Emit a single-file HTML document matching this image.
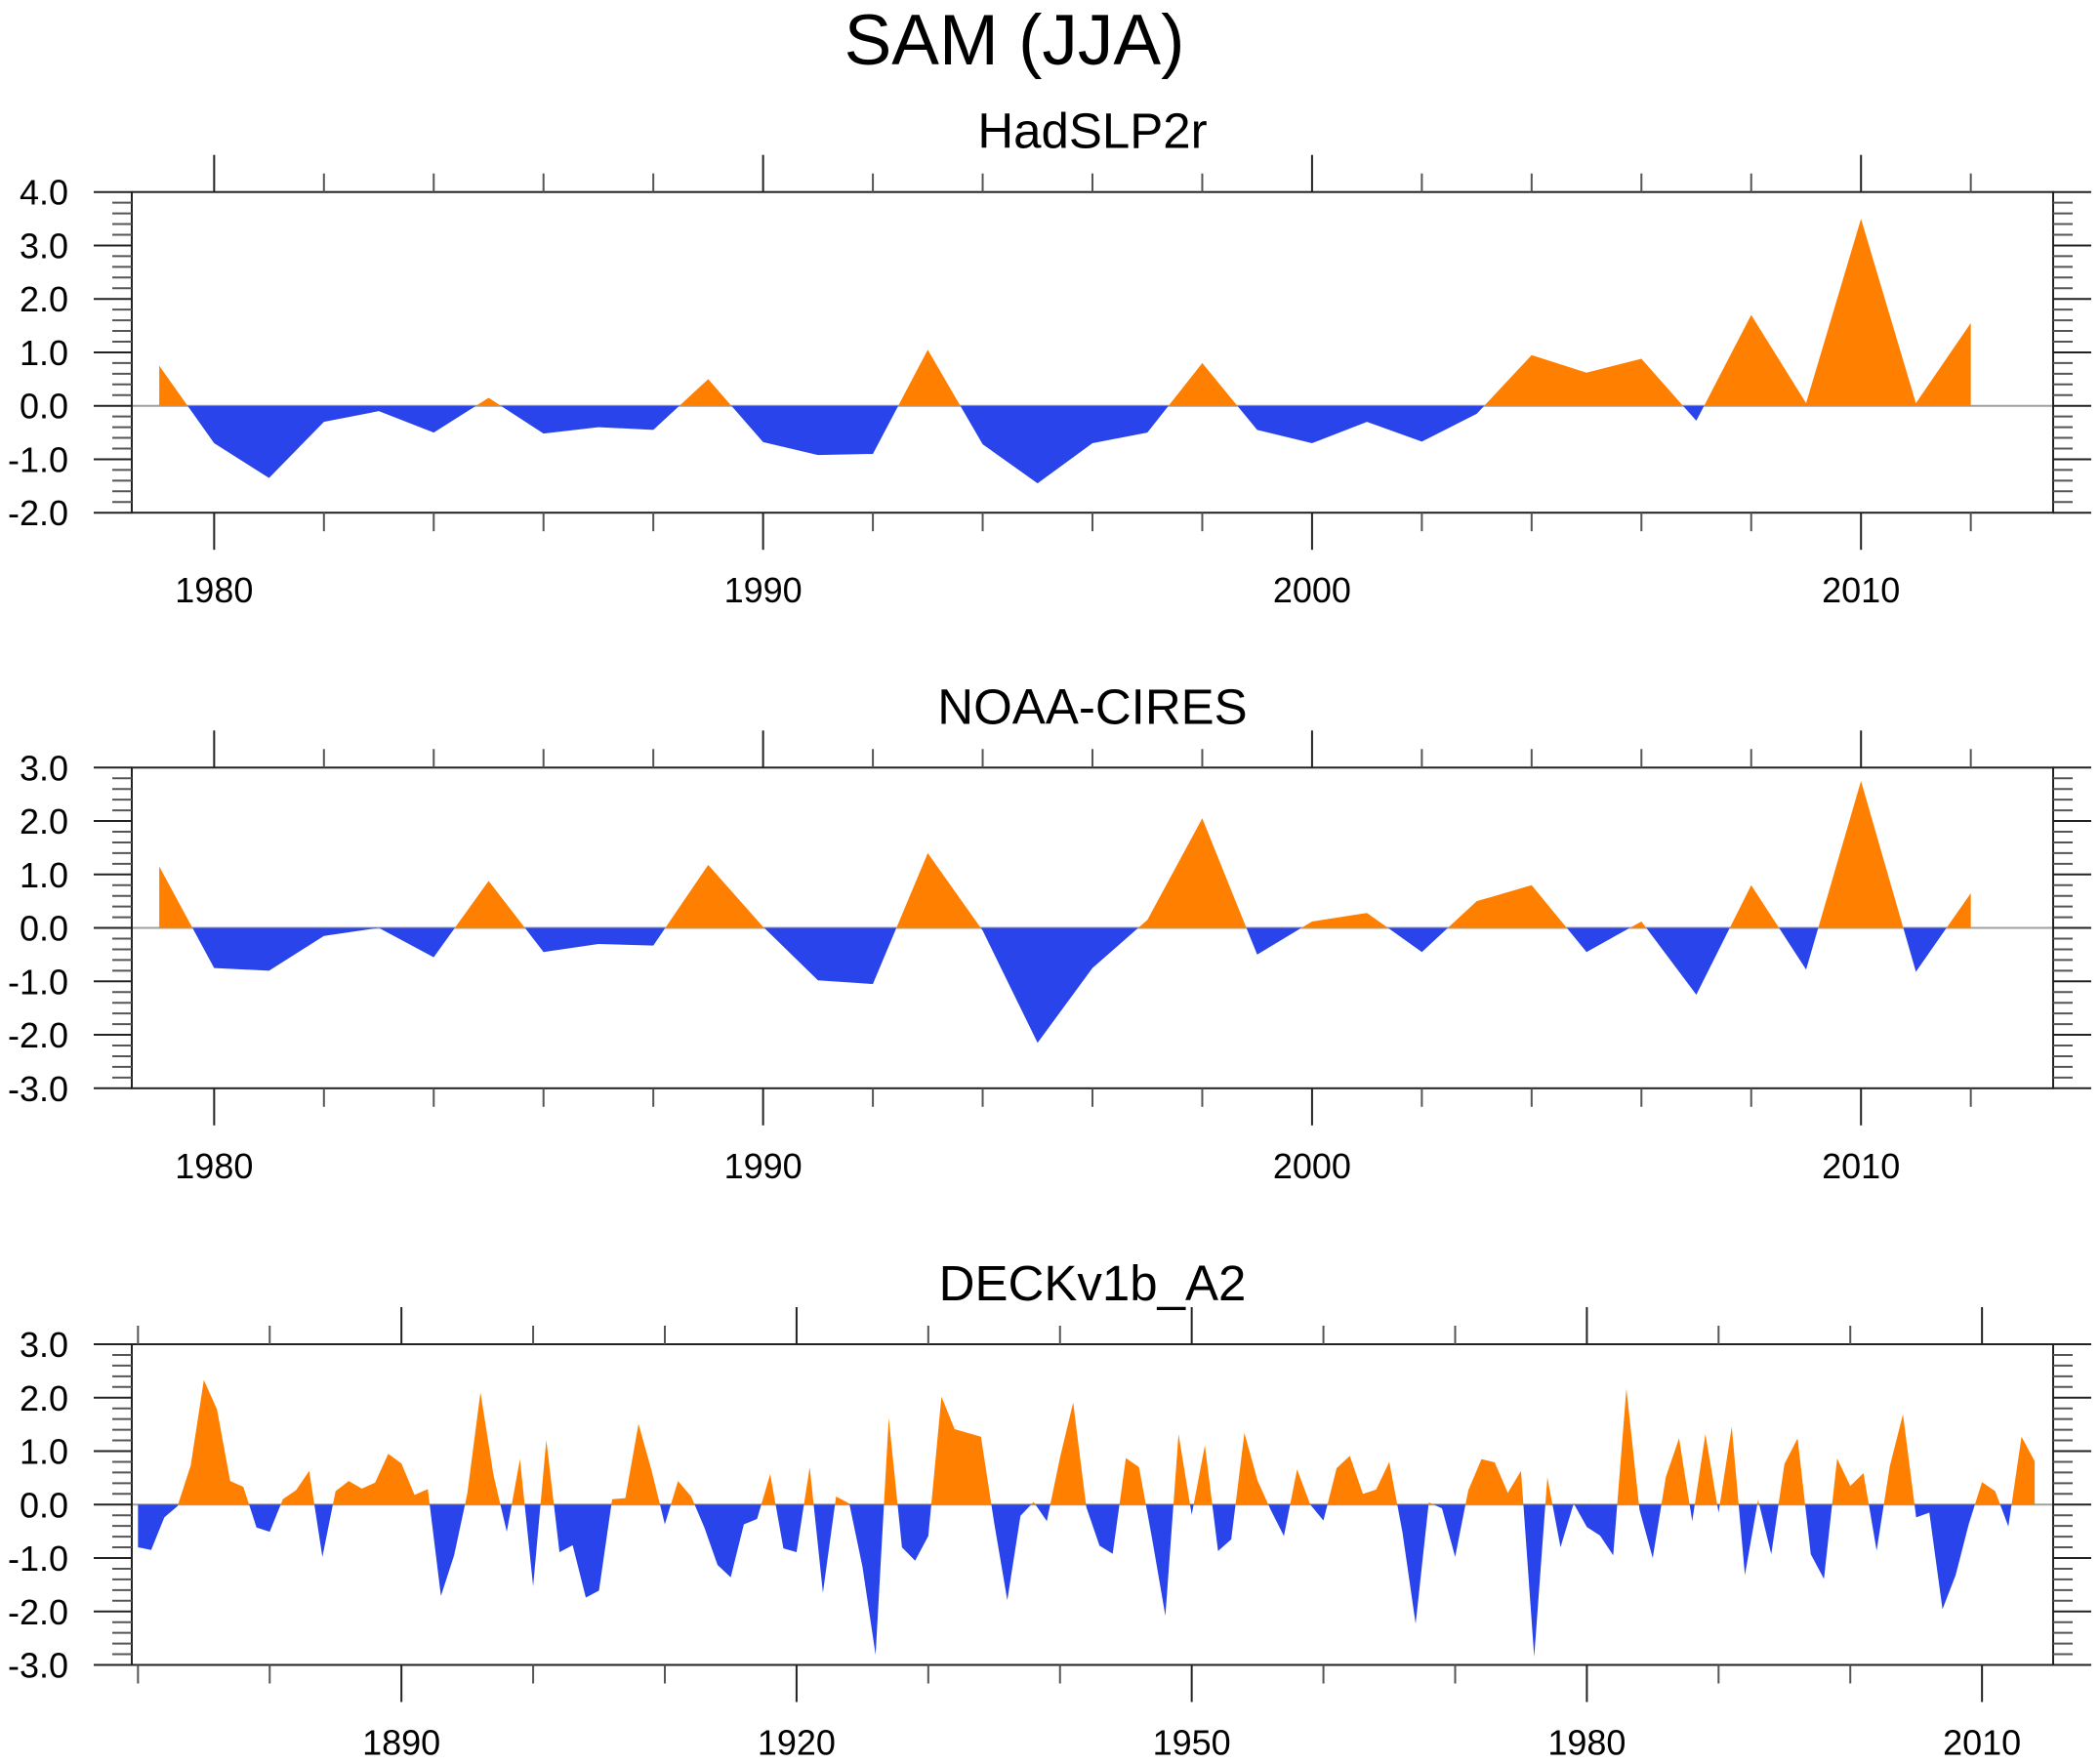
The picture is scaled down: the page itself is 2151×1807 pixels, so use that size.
<!DOCTYPE html>
<html><head><meta charset="utf-8"><title>SAM (JJA)</title>
<style>html,body{margin:0;padding:0;background:#fff}svg{display:block}text{font-family:"Liberation Sans",Arial,sans-serif;fill:#000}</style>
</head><body>
<svg id="chart" xmlns="http://www.w3.org/2000/svg" width="2151" height="1807" viewBox="0 0 2151 1807">
<rect width="2151" height="1807" fill="#fff"/>
<text x="1039" y="66" font-size="73" text-anchor="middle">SAM (JJA)</text>
</svg>
<script>
const hadYears = [1979,1980,1981,1982,1983,1984,1985,1986,1987,1988,1989,1990,1991,1992,1993,1994,1995,1996,1997,1998,1999,2000,2001,2002,2003,2004,2005,2006,2007,2008,2009,2010,2011,2012];
const hadValues = [0.75,-0.7,-1.35,-0.3,-0.1,-0.5,0.15,-0.52,-0.4,-0.45,0.5,-0.68,-0.92,-0.9,1.05,-0.72,-1.45,-0.7,-0.5,0.8,-0.45,-0.7,-0.3,-0.67,-0.15,0.95,0.62,0.88,-0.28,1.7,0.05,3.5,0.05,1.55];
const noaaYears = hadYears.slice();
const noaaValues = [1.15,-0.75,-0.8,-0.15,0.0,-0.55,0.88,-0.45,-0.3,-0.33,1.18,0.02,-0.98,-1.05,1.4,-0.05,-2.15,-0.75,0.15,2.05,-0.5,0.12,0.28,-0.45,0.5,0.8,-0.45,0.12,-1.25,0.8,-0.78,2.75,-0.82,0.65];
const deckYears = Array.from({length:145},(_,i)=>1870+i);
const deckValues = [-0.8,-0.85,-0.24,-0.03,0.73,2.33,1.78,0.44,0.33,-0.43,
-0.51,0.1,0.27,0.63,-0.98,0.25,0.44,0.3,0.41,0.95,
0.77,0.18,0.29,-1.71,-0.95,0.2,2.1,0.54,-0.51,0.85,
-1.53,1.21,-0.89,-0.76,-1.74,-1.61,0.1,0.12,1.51,0.63,
-0.37,0.44,0.15,-0.43,-1.13,-1.36,-0.37,-0.27,0.57,-0.82,
-0.89,0.7,-1.65,0.15,0.02,-1.16,-2.81,1.62,-0.8,-1.05,
-0.59,2.02,1.41,1.34,1.27,-0.34,-1.79,-0.21,0.05,-0.31,
0.88,1.91,-0.05,-0.77,-0.92,0.87,0.7,-0.65,-2.08,1.32,
-0.19,1.11,-0.87,-0.65,1.34,0.45,-0.1,-0.59,0.66,0.0,
-0.3,0.68,0.91,0.2,0.28,0.8,-0.52,-2.23,0.04,-0.07,
-0.98,0.27,0.85,0.79,0.22,0.63,-2.85,0.51,-0.8,0.02,
-0.42,-0.58,-0.95,2.17,-0.1,-1.0,0.52,1.24,-0.31,1.32,
-0.15,1.46,-1.32,0.09,-0.93,0.76,1.24,-0.93,-1.39,0.86,
0.35,0.59,-0.86,0.72,1.69,-0.24,-0.15,-1.96,-1.32,-0.36,
0.42,0.25,-0.41,1.27,0.81];
const panelTitles = ["HadSLP2r","NOAA-CIRES","DECKv1b_A2"];
const yTicks1 = [-2,-1,0,1,2,3,4];
const yTicks23 = [-3,-2,-1,0,1,2,3];
const xLabels12 = [1980,1990,2000,2010];
const xLabels3 = [1890,1920,1950,1980,2010];

const NS="http://www.w3.org/2000/svg";
const svg=document.getElementById('chart');
function mk(tag,attrs,parent){const e=document.createElementNS(NS,tag);for(const k in attrs)e.setAttribute(k,attrs[k]);(parent||svg).appendChild(e);return e;}
const L=135,R=2103,H=328.5;
const panels=[
 {key:'hadslp2r',top:196.7,ymin:-2,ymax:4,yt:yTicks1,xmin:1978.5,xmax:2013.5,maj:10,majStart:1980,min:2,minStart:1980,labels:xLabels12,years:hadYears,vals:hadValues,title:panelTitles[0]},
 {key:'noaa-cires',top:786.3,ymin:-3,ymax:3,yt:yTicks23,xmin:1978.5,xmax:2013.5,maj:10,majStart:1980,min:2,minStart:1980,labels:xLabels12,years:noaaYears,vals:noaaValues,title:panelTitles[1]},
 {key:'deckv1b-a2',top:1377,ymin:-3,ymax:3,yt:yTicks23,xmin:1869.53,xmax:2015.4,maj:30,majStart:1890,min:10,minStart:1870,labels:xLabels3,years:deckYears,vals:deckValues,title:panelTitles[2]}
];
panels.forEach((p,pi)=>{
 const B=p.top+H;
 const xs=v=>L+(v-p.xmin)/(p.xmax-p.xmin)*(R-L);
 const ys=v=>B-(v-p.ymin)/(p.ymax-p.ymin)*H;
 const g=mk('g',{});
 
 
 const t=mk('text',{x:1119,y:p.top-45,'font-size':51,'text-anchor':'middle'},g);
 t.textContent=p.title;
 
 
 // zero line
 const z=mk('line',{x1:L,x2:R,y1:ys(0),y2:ys(0),stroke:'#a0a0a0','stroke-width':2},g);
 
 
 // build points with crossings
 const pts=[];
 for(let i=0;i<p.years.length;i++){
  const x=p.years[i],v=p.vals[i];
  if(i>0){const x0=p.years[i-1],v0=p.vals[i-1];
   if((v0>0&&v<0)||(v0<0&&v>0)){const f=v0/(v0-v);pts.push([x0+f*(x-x0),0]);}}
  pts.push([x,v]);
 }
 const first=p.years[0],last=p.years[p.years.length-1];
 ['pos','neg'].forEach(s=>{
  let d='M'+xs(first)+','+ys(0);
  pts.forEach(q=>{const v=s==='pos'?Math.max(q[1],0):Math.min(q[1],0);d+='L'+xs(q[0]).toFixed(2)+','+ys(v).toFixed(2);});
  d+='L'+xs(last)+','+ys(0)+'Z';
  const path=mk('path',{d:d,fill:s==='pos'?'#ff8000':'#2a44eb',stroke:'none'},g);
  
  
 });
 // frame
 const fr=mk('rect',{x:L,y:p.top,width:R-L,height:H,fill:'none',stroke:'#222','stroke-width':2},g);
 
 
 // y ticks
 const yStep=(p.ymax-p.ymin);
 for(let k=0;k<=yStep*5;k++){
  const v=p.ymin+k*0.2;const y=ys(v);const major=k%5===0;const len=major?39:20;
  mk('line',{x1:L-len,x2:L,y1:y,y2:y,stroke:major?'#222':'#555','stroke-width':2},g);
  mk('line',{x1:R,x2:R+len,y1:y,y2:y,stroke:major?'#222':'#555','stroke-width':2},g);
 }
 p.yt.forEach(v=>{
  const tl=mk('text',{x:70,y:ys(v)+13,'font-size':36,'text-anchor':'end'},g);
  tl.textContent=v.toFixed(1);
  
  
 });
 // x ticks
 let s0=p.minStart;while(s0-p.min>=p.xmin)s0-=p.min;
 for(let yr=s0;yr<=p.xmax;yr+=p.min){
  const x=xs(yr);const major=((yr-p.majStart)%p.maj+p.maj)%p.maj===0;const len=major?38:19;
  mk('line',{x1:x,x2:x,y1:p.top-len,y2:p.top,stroke:major?'#222':'#555','stroke-width':2},g);
  mk('line',{x1:x,x2:x,y1:B,y2:B+len,stroke:major?'#222':'#555','stroke-width':2},g);
 }
 p.labels.forEach(yr=>{
  const tl=mk('text',{x:xs(yr),y:B+92,'font-size':36,'text-anchor':'middle'},g);
  tl.textContent=String(yr);
  
  
 });
});
</script>
</body></html>
